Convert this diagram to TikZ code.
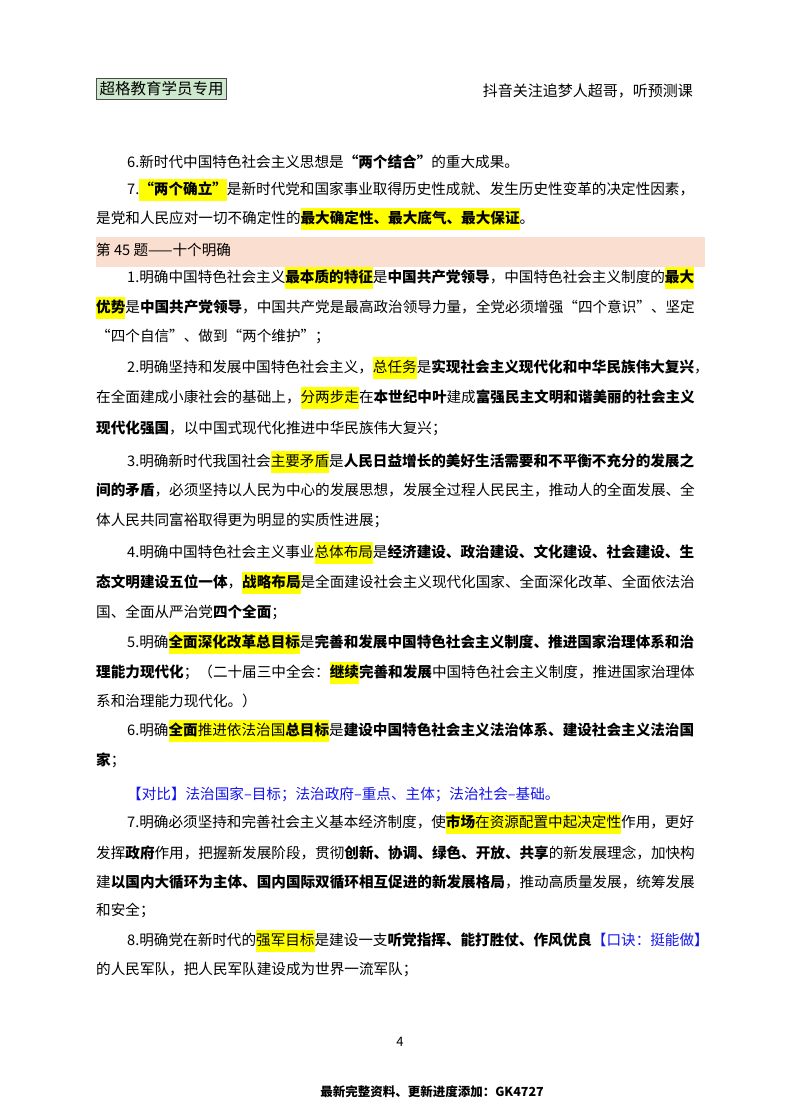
\documentclass[tikz,border=0pt]{standalone}
\usepackage{fontspec}
\setmainfont{Noto Sans CJK SC}
\XeTeXlinebreaklocale "zh"
\XeTeXlinebreakskip=0pt plus 6pt
\definecolor{hly}{RGB}{255,255,0}
\definecolor{band}{RGB}{250,222,208}
\definecolor{hdrfill}{RGB}{205,232,205}
\definecolor{bluet}{RGB}{20,20,235}
\newcommand\hl[1]{{\setlength\fboxsep{0pt}\colorbox{hly}{\rule[-7pt]{0pt}{22pt}#1}}}
\newcommand\JL[3]{\node[txt] at (#1,#2) {\makebox[\dimexpr705pt-#1pt\relax][s]{#3}};}
\newcommand\NL[3]{\node[txt] at (#1,#2) {#3};}
\begin{document}
\begin{tikzpicture}[x=1pt,y=-1pt,
  txt/.style={anchor=west,inner sep=0pt,font=\fontsize{14.6pt}{16pt}\selectfont}]
\useasboundingbox (0,0) rectangle (800,1114);
\fill[white] (0,0) rectangle (800,1114);
% header
\node[draw=black!70,line width=1pt,fill=hdrfill,inner xsep=3pt,inner ysep=3pt,anchor=west,font=\fontsize{15.5pt}{16pt}\selectfont] (hdr) at (96,89) {超格教育学员专用};
\node[anchor=east,inner sep=0pt,font=\fontsize{15pt}{16pt}\selectfont] (hdr2) at (693,91) {抖音关注追梦人超哥，听预测课};
% band
\fill[band] (96,237) rectangle (705,267);
\NL{96}{250}{第 45 题——十个明确}
\NL{127}{162}{6.新时代中国特色社会主义思想是\textbf{“两个结合”}的重大成果。}
\JL{127}{190}{7.\hl{\textbf{“两个确立”}}是新时代党和国家事业取得历史性成就、发生历史性变革的决定性因素，}
\NL{96}{219}{是党和人民应对一切不确定性的\hl{\textbf{最大确定性、最大底气、最大保证}}。}
\JL{127}{278}{1.明确中国特色社会主义\hl{\textbf{最本质的特征}}是\textbf{中国共产党领导}，中国特色社会主义制度的\hl{\textbf{最大}}}
\JL{96}{308}{\hl{\textbf{优势}}是\textbf{中国共产党领导}，中国共产党是最高政治领导力量，全党必须增强“四个意识”、坚定}
\NL{96}{336}{“四个自信”、做到“两个维护”；}
\JL{127}{368}{2.明确坚持和发展中国特色社会主义，\hl{总任务}是\textbf{实现社会主义现代化和中华民族伟大复兴}，}
\JL{96}{398}{在全面建成小康社会的基础上，\hl{分两步走}在\textbf{本世纪中叶}建成\textbf{富强民主文明和谐美丽的社会主义}}
\NL{96}{428}{\textbf{现代化强国}，以中国式现代化推进中华民族伟大复兴；}
\JL{127}{462}{3.明确新时代我国社会\hl{主要矛盾}是\textbf{人民日益增长的美好生活需要和不平衡不充分的发展之}}
\JL{96}{490}{\textbf{间的矛盾}，必须坚持以人民为中心的发展思想，发展全过程人民民主，推动人的全面发展、全}
\NL{96}{520}{体人民共同富裕取得更为明显的实质性进展；}
\JL{127}{553}{4.明确中国特色社会主义事业\hl{总体布局}是\textbf{经济建设、政治建设、文化建设、社会建设、生}}
\JL{96}{583}{\textbf{态文明建设五位一体}，\hl{\textbf{战略布局}}是全面建设社会主义现代化国家、全面深化改革、全面依法治}
\NL{96}{612}{国、全面从严治党\textbf{四个全面}；}
\JL{127}{643}{5.明确\hl{\textbf{全面深化改革总目标}}是\textbf{完善和发展中国特色社会主义制度、推进国家治理体系和治}}
\JL{96}{673}{\textbf{理能力现代化}；（二十届三中全会：\hl{\textbf{继续}}\textbf{完善和发展}中国特色社会主义制度，推进国家治理体}
\NL{96}{701}{系和治理能力现代化。）}
\JL{127}{731}{6.明确\hl{\textbf{全面}推进依法治国\textbf{总目标}}是\textbf{建设中国特色社会主义法治体系、建设社会主义法治国}}
\NL{96}{760}{\textbf{家}；}
\NL{127}{794}{\color{bluet}【对比】法治国家–目标；法治政府–重点、主体；法治社会–基础。}
\JL{127}{823}{7.明确必须坚持和完善社会主义基本经济制度，使\hl{\textbf{市场}在资源配置中起决定性}作用，更好}
\JL{96}{853}{发挥\textbf{政府}作用，把握新发展阶段，贯彻\textbf{创新、协调、绿色、开放、共享}的新发展理念，加快构}
\JL{96}{882}{建\textbf{以国内大循环为主体、国内国际双循环相互促进的新发展格局}，推动高质量发展，统筹发展}
\NL{96}{910}{和安全；}
\JL{127}{941}{8.明确党在新时代的\hl{强军目标}是建设一支\textbf{听党指挥、能打胜仗、作风优良}{\color{bluet}【口诀：挺能做】}}
\NL{96}{970}{的人民军队，把人民军队建设成为世界一流军队；}
\node[inner sep=0pt,font=\fontsize{13pt}{14pt}\selectfont] (pg) at (400,1042) {4};
\node[inner sep=0pt,font=\bfseries\fontsize{12.5pt}{14pt}\selectfont] (ft) at (432,1092) {最新完整资料、更新进度添加：GK4727};
\end{tikzpicture}
\end{document}
